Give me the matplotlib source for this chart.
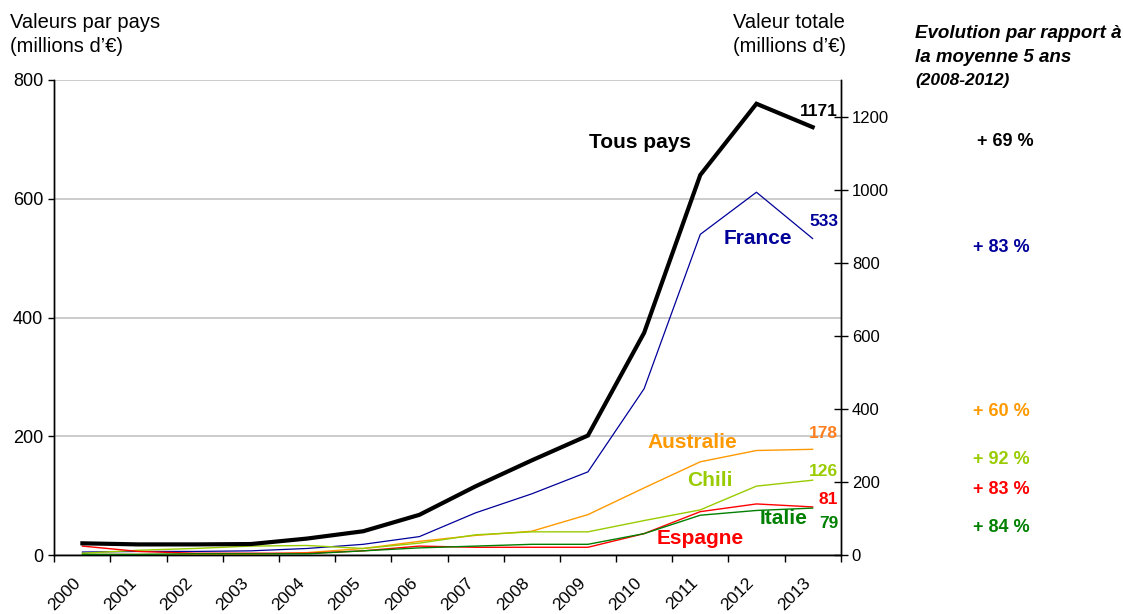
import numpy as np
import matplotlib
matplotlib.use("Agg")
import matplotlib.pyplot as plt
from matplotlib.transforms import ScaledTranslation

plt.rcParams['font.family'] = ['Liberation Sans', 'DejaVu Sans']

# ---- data (millions d'€) ----
years = [str(y) for y in range(2000, 2014)]
total = [32, 29, 29, 30, 45, 65, 110, 188, 259, 327, 608, 1040, 1235, 1171]
france = [5, 6, 6, 7, 11, 18, 31, 71, 103, 140, 280, 540, 611, 533]
australie = [1, 1, 1, 1, 4, 11, 23, 33, 40, 68, 113, 157, 176, 178]
chili = [3, 8, 11, 15, 16, 11, 20, 34, 39, 39, 58, 76, 116, 126]
espagne = [15, 6, 3, 3, 3, 7, 15, 13, 13, 13, 36, 73, 86, 81]
italie = [1, 1, 2, 2, 2, 7, 12, 15, 18, 18, 36, 67, 75, 79]

evolutions = ["+ 69 %", "+ 83 %", "+ 60 %", "+ 92 %", "+ 83 %", "+ 84 %"]

C_TOTAL = "#000000"
C_FR = "#000099"
C_AU = "#FF9900"
C_CL = "#99CC00"
C_ES = "#FF0000"
C_IT = "#008000"

W, H = 1123, 614
fig = plt.figure(figsize=(W / 100, H / 100), dpi=100)


def fx(px):
    return px / W


def fy(py):
    return 1 - py / H


ax = fig.add_axes([fx(54.3), fy(555), fx(840.7) - fx(54.3), fy(80) - fy(555)])
ax2 = ax.twinx()

x = np.arange(len(years))
ax.set_xlim(-0.5, len(years) - 0.5)
ax.set_ylim(0, 800)
ax2.set_ylim(0, 1300)

ax.plot(x, france, color=C_FR, lw=0.9, zorder=3)
ax.plot(x, australie, color=C_AU, lw=1.0, zorder=3)
ax.plot(x, chili, color=C_CL, lw=1.0, zorder=3)
ax.plot(x, espagne, color=C_ES, lw=1.0, zorder=3)
ax.plot(x, italie, color=C_IT, lw=1.0, zorder=3)
ax2.plot(x, total, color=C_TOTAL, lw=3.0, solid_joinstyle='miter', zorder=3)

# grid & spines
ax.set_yticks([0, 200, 400, 600, 800])
ax.yaxis.grid(True, color="#C8C8C8", lw=1.3)
ax.set_axisbelow(True)
for a in (ax, ax2):
    a.spines['top'].set_visible(False)
    a.spines['left'].set_linewidth(1.0)
    a.spines['right'].set_linewidth(1.0)
    a.spines['bottom'].set_linewidth(1.0)
ax.tick_params(axis='y', direction='out', length=4, width=1, labelsize=13, pad=4)

ax2.set_yticks([0, 200, 400, 600, 800, 1000, 1200])
ax2.tick_params(axis='y', direction='inout', length=10, width=1, labelsize=12, pad=3)

# x axis: category ticks between years, labels centred
ax.set_xticks(x)
ax.set_xticks(np.arange(-0.5, len(years)), minor=True)
ax.tick_params(axis='x', which='major', length=0, labelsize=12.5, pad=0)
ax.tick_params(axis='x', which='minor', direction='out', length=5, width=1)
ax.set_xticklabels(years, rotation=45, ha='right', va='top', rotation_mode='anchor')
off = ScaledTranslation(-10 / 100, -20 / 100, fig.dpi_scale_trans)
for lab in ax.get_xticklabels():
    lab.set_transform(lab.get_transform() + off)


# series names
def lbl(px, py, s, c, size=15, ha='center'):
    fig.text(fx(px), fy(py), s, color=c, fontsize=size, fontweight='bold',
             ha=ha, va='center')


lbl(640, 143, "Tous pays", C_TOTAL)
lbl(758, 239, "France", C_FR)
lbl(692, 443, "Australie", C_AU)
lbl(710, 480, "Chili", C_CL)
lbl(700, 538, "Espagne", C_ES)
lbl(784, 518, "Italie", C_IT)


# last-year values, placed beside the final point of each series
def val(series, py, c, a):
    a.annotate(f"{series[-1]}", (x[-1], series[-1]), xytext=(838, H - py),
               textcoords='figure pixels', ha='right', va='center',
               fontsize=12.5, fontweight='bold', color=c)


val(total, 111, C_TOTAL, ax2)
val(france, 221, C_FR, ax)
val(australie, 434, "#FF7F1F", ax)
val(chili, 472, C_CL, ax)
val(espagne, 500, C_ES, ax)
val(italie, 524, C_IT, ax)

# evolution column
evo_pos = [(977, 142, C_TOTAL), (973, 248, C_FR), (973, 412, C_AU),
           (973, 460, C_CL), (973, 489, C_ES), (973, 527, C_IT)]
for s, (px, py, c) in zip(evolutions, evo_pos):
    lbl(px, py, s, c, size=13, ha='left')

# headers
fig.text(fx(10), fy(22), "Valeurs par pays", fontsize=14.5, ha='left', va='center')
fig.text(fx(10), fy(47), "(millions d’€)", fontsize=14.5, ha='left', va='center')
fig.text(fx(733), fy(22), "Valeur totale", fontsize=14.5, ha='left', va='center')
fig.text(fx(733), fy(47), "(millions d’€)", fontsize=14.5, ha='left', va='center')
fig.text(fx(915), fy(34), "Evolution par rapport à", fontsize=13.5, fontweight='bold',
         style='italic', ha='left', va='center')
fig.text(fx(915), fy(57), "la moyenne 5 ans", fontsize=13.5, fontweight='bold',
         style='italic', ha='left', va='center')
fig.text(fx(915), fy(80), "(2008-2012)", fontsize=12.5, fontweight='bold',
         style='italic', ha='left', va='center')

fig.savefig("out.png", dpi=100)
